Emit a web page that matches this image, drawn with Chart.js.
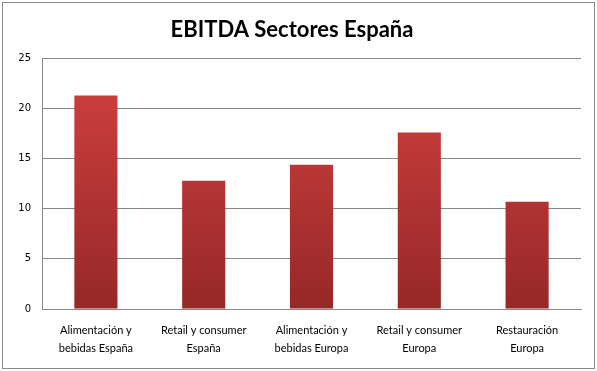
<!DOCTYPE html>
<html><head><meta charset="utf-8">
<script src="https://cdn.jsdelivr.net/npm/chart.js@4/dist/chart.umd.min.js"></script>
<style>
html,body{margin:0;padding:0;background:#fff;}
#wrap{position:absolute;left:2px;top:2px;width:591px;height:365px;border:1px solid #8a8a8a;box-sizing:content-box;}
canvas{display:block;}
</style></head><body>
<div id="wrap"><canvas id="c" width="591" height="365"></canvas></div>
<script>
const categories = [["Alimentación y","bebidas España"],["Retail y consumer","España"],["Alimentación y","bebidas Europa"],["Retail y consumer","Europa"],["Restauración","Europa"]];
const ebitda = [21.3, 12.8, 14.4, 17.6, 10.7];
const yTicks = [0, 5, 10, 15, 20, 25];

function grad(ctx){
  const ch = ctx.chart; const a = ch.chartArea;
  if(!a) return '#c83a3a';
  const g = ch.ctx.createLinearGradient(0, a.top, 0, a.bottom);
  g.addColorStop(0, '#d34141');
  g.addColorStop(1, '#962828');
  return g;
}

new Chart(document.getElementById('c'), {
  type: 'bar',
  data: { labels: categories, datasets: [{ data: ebitda, backgroundColor: grad, borderWidth: 0, categoryPercentage: 1, barPercentage: 0.4 }] },
  options: {
    responsive: false, animation: false, devicePixelRatio: 1,
    layout: { padding: { left: 0, right: 13, top: 0, bottom: 0 } },
    plugins: {
      legend: { display: false }, tooltip: { enabled: false },
      title: { display: true, text: 'EBITDA Sectores España', color: '#000',
        font: { family: 'Lato', size: 22, weight: 'bold' }, padding: { top: 14, bottom: 15 } }
    },
    scales: {
      x: {
        grid: { display: false, drawTicks: false },
        border: { display: true, color: '#888' },
        ticks: { color: '#000', font: { family: 'Lato', size: 11, lineHeight: 1.6 }, maxRotation: 0, padding: 13 },
        afterFit: s => { s.height = 59; }
      },
      y: {
        min: 0, max: 25,
        afterBuildTicks: s => { s.ticks = yTicks.map(v => ({ value: v })); },
        grid: { color: '#888', drawTicks: false },
        border: { display: true, color: '#888' },
        ticks: { color: '#000', font: { family: 'DejaVu Sans', size: 10 }, padding: 11 },
        afterFit: s => { s.width = 39; }
      }
    }
  }
});
</script></body></html>
